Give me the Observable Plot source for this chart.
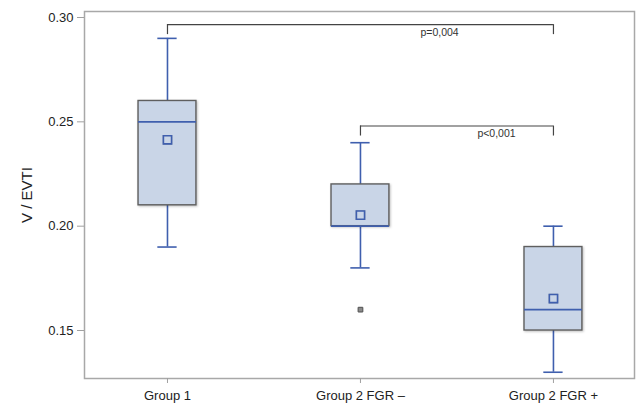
<!DOCTYPE html>
<html><head><meta charset="utf-8">
<script src="https://cdn.jsdelivr.net/npm/d3@7"></script>
<script src="https://cdn.jsdelivr.net/npm/@observablehq/plot@0.6"></script>
<style>body{margin:0;background:#fff}</style>
</head><body><div id="chart"></div>
<script>
const groups = ["Group 1", "Group 2 FGR –", "Group 2 FGR +"];
const whiskerLow = [0.19, 0.18, 0.13];
const q1 = [0.21, 0.20, 0.15];
const median = [0.25, 0.20, 0.16];
const q3 = [0.26, 0.22, 0.19];
const whiskerHigh = [0.29, 0.24, 0.20];
const means = [0.2414, 0.2053, 0.1653];
const outlierGroup = [1];
const outlierValue = [0.16];
const yTicks = [0.15, 0.20, 0.25, 0.30];
const yLabel = "V / EVTI";
const compFrom = [0, 1];
const compTo = [2, 2];
const compY = [0.2966, 0.248];
const compLabel = ["p=0,004", "p<0,001"];

const idx = groups.map((g, i) => i);
const boxes = idx.map(i => ({i, lo: whiskerLow[i], q1: q1[i], med: median[i], q3: q3[i], hi: whiskerHigh[i], mean: means[i]}));
const outliers = outlierGroup.map((g, k) => ({i: g, v: outlierValue[k]}));
const comps = compFrom.map((f, k) => ({from: f, to: compTo[k], y: compY[k], label: compLabel[k]}));

const HB = 0.15;   // half box width (x units)
const HC = 0.05;   // half cap width
const DROP = 0.0048;
const blue = "#3f5fae";
const fillC = "#c9d5e7";
const xDom = [-0.43, 2.42];
const yDom = [0.1270, 0.30288];

const chart = Plot.plot({
  width: 637, height: 405,
  marginLeft: 84, marginTop: 11, marginRight: 3, marginBottom: 27,
  style: {fontFamily: "'Liberation Sans', Arial, sans-serif", fontSize: "13px", background: "#fff", color: "#222"},
  x: {domain: xDom, axis: null},
  y: {domain: yDom, axis: null},
  marks: [
    Plot.frame({stroke: "#a8a8a8", strokeWidth: 1.5}),
    Plot.axisY({ticks: yTicks, tickFormat: ".2f", tickSize: 7, tickPadding: 4, stroke: "#a0a0a0", fill: "#222", fontSize: 13,
      label: yLabel, labelAnchor: "center", labelArrow: "none", labelOffset: 63}),
    Plot.axisX({ticks: idx, tickFormat: i => groups[i], tickSize: 5, tickPadding: 7, stroke: "#a0a0a0", fill: "#222", label: null, fontSize: 13}),
    // whiskers
    Plot.ruleX(boxes, {x: "i", y1: "q3", y2: "hi", stroke: blue, strokeWidth: 1.6}),
    Plot.ruleX(boxes, {x: "i", y1: "lo", y2: "q1", stroke: blue, strokeWidth: 1.6}),
    Plot.ruleY(boxes, {y: "hi", x1: d => d.i - HC, x2: d => d.i + HC, stroke: blue, strokeWidth: 1.6}),
    Plot.ruleY(boxes, {y: "lo", x1: d => d.i - HC, x2: d => d.i + HC, stroke: blue, strokeWidth: 1.6}),
    // boxes
    Plot.rect(boxes, {x1: d => d.i - HB, x2: d => d.i + HB, y1: "q1", y2: "q3", fill: fillC, stroke: "#5f5f5f", strokeWidth: 1.4}),
    Plot.ruleY(boxes, {y: "med", x1: d => d.i - HB, x2: d => d.i + HB, stroke: blue, strokeWidth: 1.6}),
    // means
    Plot.dot(boxes, {x: "i", y: "mean", symbol: "square", r: 4.6, fill: fillC, stroke: blue, strokeWidth: 1.6}),
    // outliers
    Plot.dot(outliers, {x: "i", y: "v", symbol: "square", r: 2.6, fill: "#8a8a8a", stroke: "#555", strokeWidth: 1}),
    // comparison brackets
    Plot.ruleY(comps, {y: "y", x1: "from", x2: "to", stroke: "#444", strokeWidth: 1.2}),
    Plot.ruleX(comps, {x: "from", y1: "y", y2: d => d.y - DROP, stroke: "#444", strokeWidth: 1.2}),
    Plot.ruleX(comps, {x: "to", y1: "y", y2: d => d.y - DROP, stroke: "#444", strokeWidth: 1.2}),
    Plot.text(comps, {x: d => d.from + 0.705 * (d.to - d.from), y: "y", dy: 8, text: "label", fontSize: 10.5, fill: "#333"})
  ]
});
d3.select(chart).selectAll("g[aria-label=rect] rect").style("filter", "drop-shadow(1px 1.5px 1px rgba(0,0,0,0.25))");
d3.select(chart).selectAll("g[aria-label=dot] path").style("filter", "drop-shadow(0.8px 0.8px 0.6px rgba(0,0,0,0.25))");
d3.select(chart).selectAll("g[aria-label='y-axis label'] text").attr("font-size", 15);
document.getElementById("chart").append(chart);
</script>
</body></html>
